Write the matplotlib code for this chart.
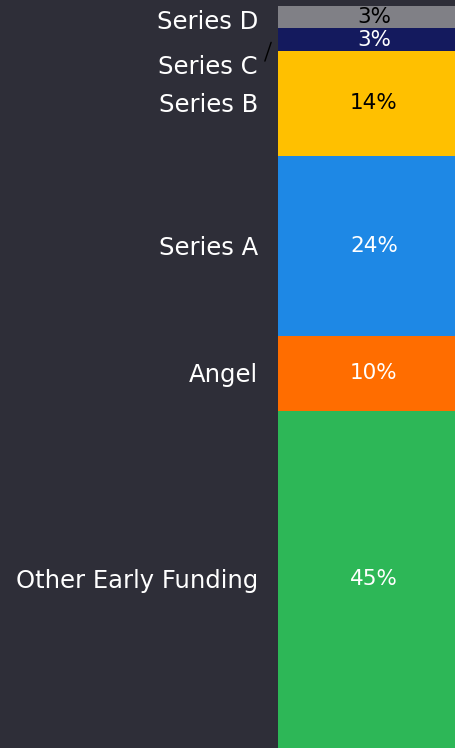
import matplotlib.pyplot as plt
from matplotlib.transforms import blended_transform_factory, offset_copy

# Funding mix (share of total, %)
stages = ['Other Early Funding', 'Angel', 'Series A', 'Series B', 'Series C', 'Series D']
shares = [45, 10, 24, 14, 3, 3]
colors = ['#2db757', '#ff6d00', '#1e88e5', '#ffc000', '#141a5e', '#808086']
text_colors = ['white', 'white', 'white', 'black', 'white', 'black']

bg = '#2e2e38'
plt.rcParams['font.family'] = ['DejaVu Sans']
fs_val = 15.5
fs_lab = 17.5

fig = plt.figure(figsize=(4.55, 7.48), dpi=100, facecolor=bg)
# bar runs slightly past the right edge of the canvas
ax = fig.add_axes([278 / 455, 0, (470 - 278) / 455, 742 / 748])
ax.set_facecolor(bg)

bottom = 0
centers = []
for stage, val, col, tc in zip(stages, shares, colors, text_colors):
    ax.bar(0, val, bottom=bottom, width=1, color=col, linewidth=0)
    c = bottom + val / 2
    centers.append(c)
    ax.text(0, c, f'{val}%', ha='center', va='center', color=tc, fontsize=fs_val)
    bottom += val

ax.set_xlim(-0.5, 0.5)
ax.set_ylim(0, sum(shares))
ax.axis('off')

# category labels to the left of the bar
trans = blended_transform_factory(ax.transAxes, ax.transData)
lab_trans = offset_copy(trans, fig=fig, x=-20, y=-2, units='dots')
for stage, c in zip(stages, centers):
    if stage in ('Series C', 'Series D'):
        continue
    ax.text(0, c, stage, transform=lab_trans, ha='right', va='center',
            color='white', fontsize=fs_lab)

# top label nudged down so it stays inside the figure
top_trans = offset_copy(trans, fig=fig, x=-20, y=-5, units='dots')
ax.text(0, centers[-1], 'Series D', transform=top_trans, ha='right', va='center',
        color='white', fontsize=fs_lab)

# Series C label pushed down, with a leader line to its slice
ic = stages.index('Series C')
shift = offset_copy(trans, fig=fig, x=-20, y=-27, units='dots')
ax.text(0, centers[ic], 'Series C', transform=shift, ha='right', va='center',
        color='white', fontsize=fs_lab)
p0 = offset_copy(trans, fig=fig, x=-14, y=-24, units='dots')
ax.annotate('', xy=(0, centers[ic]), xycoords=offset_copy(trans, fig=fig, x=-6, y=0, units='dots'),
            xytext=(0, centers[ic]), textcoords=p0,
            arrowprops=dict(arrowstyle='-', color='black', lw=1), annotation_clip=False)

fig.savefig('out.png', dpi=100, facecolor=bg)
